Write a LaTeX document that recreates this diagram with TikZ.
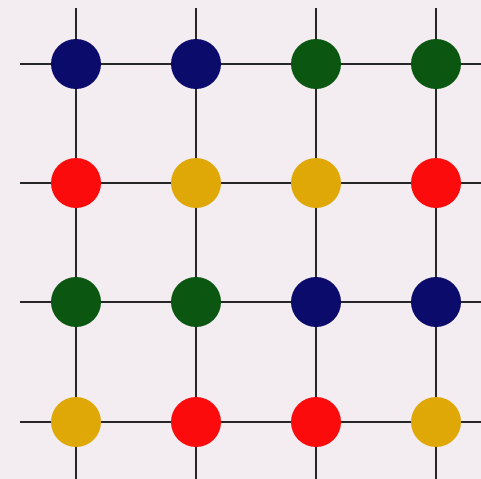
\documentclass[tikz,border=0pt]{standalone}
\usetikzlibrary{backgrounds}
\definecolor{paper}{HTML}{F3EDF1}
\definecolor{dotnavy}{HTML}{0B0B6B}
\definecolor{dotgreen}{HTML}{0B5610}
\definecolor{dotred}{HTML}{FB0B0B}
\definecolor{dotgold}{HTML}{E0A806}
\tikzset{
  dot/.style   = {circle, minimum size=1.0cm, inner sep=0pt, draw=none},
  navy/.style  = {dot, fill=dotnavy},
  green/.style = {dot, fill=dotgreen},
  red/.style   = {dot, fill=dotred},
  gold/.style  = {dot, fill=dotgold},
  wire/.style  = {line width=0.8pt, draw=black!85}
}
\begin{document}
\begin{tikzpicture}[x=0.02cm, y=-0.02cm]
\useasboundingbox (0,0) rectangle (481,479);

% row 1
\node[navy]  at ( 76, 64) (d11) {};
\node[navy]  at (196, 64) (d12) {};
\node[green] at (316, 64) (d13) {};
\node[green] at (436, 64) (d14) {};
% row 2
\node[red]   at ( 76,183) (d21) {};
\node[gold]  at (196,183) (d22) {};
\node[gold]  at (316,183) (d23) {};
\node[red]   at (436,183) (d24) {};
% row 3
\node[green] at ( 76,302) (d31) {};
\node[green] at (196,302) (d32) {};
\node[navy]  at (316,302) (d33) {};
\node[navy]  at (436,302) (d34) {};
% row 4
\node[gold]  at ( 76,422) (d41) {};
\node[red]   at (196,422) (d42) {};
\node[red]   at (316,422) (d43) {};
\node[gold]  at (436,422) (d44) {};

% free ends of the grid lines
\coordinate (t1) at ( 76,8);   \coordinate (b1) at ( 76,479);
\coordinate (t2) at (196,8);   \coordinate (b2) at (196,479);
\coordinate (t3) at (316,8);   \coordinate (b3) at (316,479);
\coordinate (t4) at (436,8);   \coordinate (b4) at (436,479);
\coordinate (l1) at (20, 64);  \coordinate (r1) at (481, 64);
\coordinate (l2) at (20,183);  \coordinate (r2) at (481,183);
\coordinate (l3) at (20,302);  \coordinate (r3) at (481,302);
\coordinate (l4) at (20,422);  \coordinate (r4) at (481,422);

\begin{scope}[on background layer]
\fill[paper] (0,0) rectangle (481,479);
\draw[wire] (t1) -- (d11) -- (d21) -- (d31) -- (d41) -- (b1);
\draw[wire] (t2) -- (d12) -- (d22) -- (d32) -- (d42) -- (b2);
\draw[wire] (t3) -- (d13) -- (d23) -- (d33) -- (d43) -- (b3);
\draw[wire] (t4) -- (d14) -- (d24) -- (d34) -- (d44) -- (b4);
\draw[wire] (l1) -- (d11) -- (d12) -- (d13) -- (d14) -- (r1);
\draw[wire] (l2) -- (d21) -- (d22) -- (d23) -- (d24) -- (r2);
\draw[wire] (l3) -- (d31) -- (d32) -- (d33) -- (d34) -- (r3);
\draw[wire] (l4) -- (d41) -- (d42) -- (d43) -- (d44) -- (r4);
\end{scope}
\end{tikzpicture}
\end{document}
